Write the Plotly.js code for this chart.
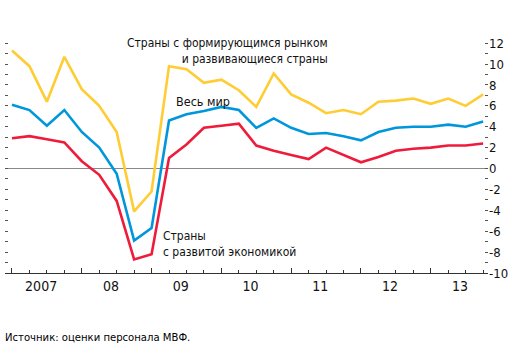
<!DOCTYPE html>
<html>
<head>
<meta charset="utf-8">
<script src="https://cdn.plot.ly/plotly-3.0.1.min.js"></script>
<style>html,body{margin:0;padding:0;background:#fff;}#chart{width:511px;height:352px;}</style>
</head>
<body>
<div id="chart"></div>
<script>
// Quarterly, 2007Q1 .. 2013Q4
const quarters = ["2007Q1","2007Q2","2007Q3","2007Q4","2008Q1","2008Q2","2008Q3","2008Q4",
  "2009Q1","2009Q2","2009Q3","2009Q4","2010Q1","2010Q2","2010Q3","2010Q4",
  "2011Q1","2011Q2","2011Q3","2011Q4","2012Q1","2012Q2","2012Q3","2012Q4",
  "2013Q1","2013Q2","2013Q3","2013Q4"];
const emerging = [11.3, 9.8, 6.4, 10.7, 7.6, 6.0, 3.5, -4.1, -2.2, 9.8, 9.5, 8.2, 8.5, 7.5,
  5.9, 9.1, 7.1, 6.3, 5.3, 5.6, 5.2, 6.4, 6.5, 6.7, 6.2, 6.7, 6.0, 7.1];
const world = [6.1, 5.6, 4.1, 5.6, 3.5, 2.0, -0.5, -6.9, -5.7, 4.6, 5.2, 5.5, 5.9, 5.6,
  3.9, 4.8, 3.9, 3.3, 3.4, 3.1, 2.7, 3.5, 3.9, 4.0, 4.0, 4.2, 4.0, 4.5];
const advanced = [2.9, 3.1, 2.8, 2.5, 0.7, -0.6, -3.1, -8.7, -8.2, 1.0, 2.3, 3.9, 4.1, 4.3,
  2.2, 1.7, 1.3, 0.9, 2.0, 1.3, 0.6, 1.1, 1.7, 1.9, 2.0, 2.2, 2.2, 2.4];
const yearLabels = ["2007", "08", "09", "10", "11", "12", "13"];
const yTickVals = [-10, -8, -6, -4, -2, 0, 2, 4, 6, 8, 10, 12];
const yTickText = ["-10", "-8", "-6", "-4", "-2", "0", "2", "4", "6", "8", "10", "12"];
const labelSeries = {
  emerging: "Страны с формирующимся рынком<br>и развивающиеся страны",
  world: "Весь мир",
  advanced: "Страны<br>с развитой экономикой"
};
const sourceText = "Источник: оценки персонала МВФ.";

const idx = quarters.map((q, i) => i);
const yearStarts = yearLabels.map((y, k) => 4 * k);
const yearLabelPos = yearLabels.map((y, k) => 4 * k + 1.67);

const FONT = "'DejaVu Sans Condensed', 'Liberation Sans Narrow', 'Liberation Sans', Arial, sans-serif";

const traces = [
  {x: idx, y: emerging, type: "scatter", mode: "lines", line: {color: "#FFCC33", width: 2.6}, hoverinfo: "skip"},
  {x: idx, y: world, type: "scatter", mode: "lines", line: {color: "#0096DB", width: 2.6}, hoverinfo: "skip"},
  {x: idx, y: advanced, type: "scatter", mode: "lines", line: {color: "#EE1C3A", width: 2.6}, hoverinfo: "skip"},
  {x: yearStarts, y: yearStarts.map(() => null), xaxis: "x2", type: "scatter", mode: "lines", showlegend: false, hoverinfo: "skip"}
];

const layout = {
  width: 511, height: 352,
  margin: {l: 5, r: 23, t: 39, b: 79},
  paper_bgcolor: "#fff", plot_bgcolor: "#fff",
  showlegend: false,
  font: {family: FONT, size: 13, color: "#111"},
  xaxis: {
    range: [-0.4, 27.28], showgrid: false, zeroline: false,
    showline: true, linecolor: "#333", linewidth: 1,
    tickmode: "array", tickvals: yearLabelPos, ticktext: yearLabels,
    ticks: "", tickfont: {family: FONT, size: 14, color: "#111"},
    minor: {tickmode: "linear", tick0: 0, dtick: 1, ticks: "inside", ticklen: 3, tickcolor: "#333", tickwidth: 1, showgrid: false}
  },
  xaxis2: {
    overlaying: "x", matches: "x", anchor: "y", side: "bottom",
    range: [-0.4, 27.28], showgrid: false, zeroline: false, showline: false,
    tickmode: "array", tickvals: yearStarts, ticks: "inside", ticklen: 5,
    tickcolor: "#333", tickwidth: 1, showticklabels: false
  },
  yaxis: {
    side: "right", range: [-10, 12.4], showgrid: false,
    zeroline: true, zerolinecolor: "#888", zerolinewidth: 1,
    showline: false, tickmode: "array", tickvals: yTickVals, ticktext: yTickText,
    ticks: "inside", ticklen: 3, tickcolor: "#555", tickwidth: 1,
    mirror: "ticks",
    tickfont: {family: FONT, size: 13, color: "#111"},
    minor: {tickmode: "linear", tick0: 0, dtick: 1, ticks: "inside", ticklen: 3, tickcolor: "#555", tickwidth: 1, showgrid: false}
  },
  annotations: [
    {text: labelSeries.emerging, xref: "paper", yref: "paper", x: 0.672, y: 1.02, xanchor: "right", yanchor: "top",
     align: "right", showarrow: false, font: {family: FONT, size: 12, color: "#111"}},
    {text: labelSeries.world, xref: "paper", yref: "paper", x: 0.35, y: 0.733, xanchor: "left", yanchor: "middle",
     align: "left", showarrow: false, font: {family: FONT, size: 12.5, color: "#111"}},
    {text: labelSeries.advanced, xref: "paper", yref: "paper", x: 0.322, y: 0.125, xanchor: "left", yanchor: "middle",
     align: "left", showarrow: false, font: {family: FONT, size: 12, color: "#111"}},
    {text: sourceText, xref: "paper", yref: "paper", x: -0.005, y: -0.274, xanchor: "left", yanchor: "middle",
     showarrow: false, font: {family: FONT, size: 11.2, color: "#000"}}
  ]
};

Plotly.newPlot("chart", traces, layout, {staticPlot: true, displayModeBar: false});
</script>
</body>
</html>
